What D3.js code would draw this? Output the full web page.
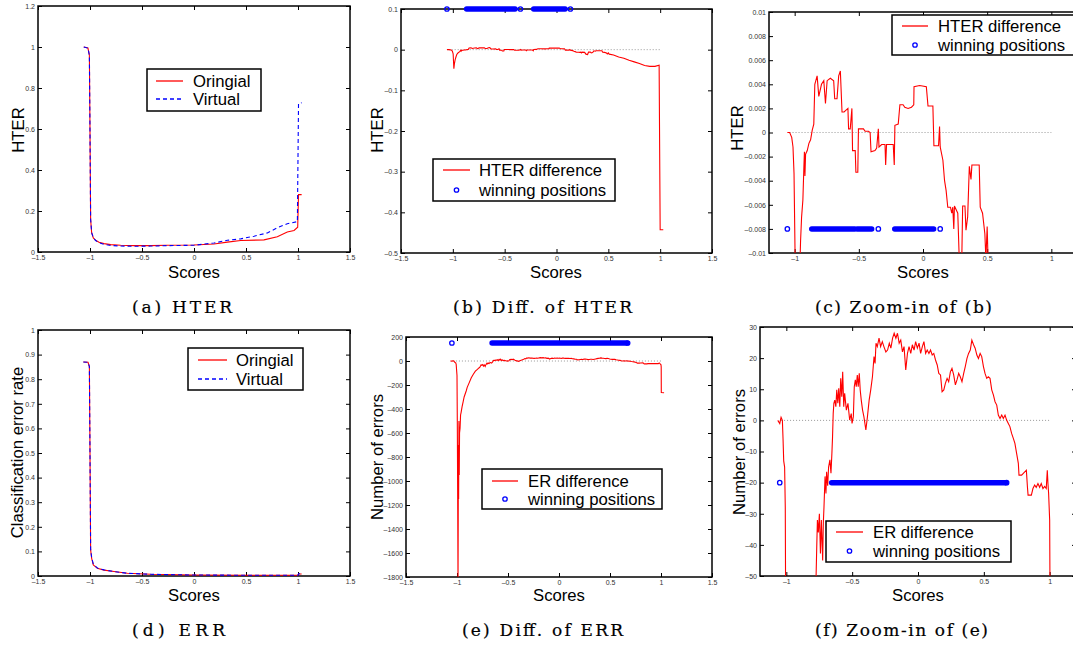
<!DOCTYPE html>
<html>
<head>
<meta charset="utf-8">
<script src="https://cdn.jsdelivr.net/npm/d3@7"></script>
<style>
body { margin: 0; background: #fff; }
svg { display: block; }
.tick text { font-family: "Liberation Sans", Arial, sans-serif; font-size: 7px; fill: #333; }
.tick line { stroke: #000; stroke-width: 1; }
.lab { font-family: "Liberation Sans", Arial, sans-serif; font-size: 16.7px; fill: #000; }
.cap { font-family: "DejaVu Serif", "Liberation Serif", serif; font-size: 17px; fill: #000; stroke: #000; stroke-width: 0.2; }
</style>
</head>
<body>
<svg width="1073" height="648"></svg>
<script>
// ---- data ----
var ticksScores = [-1.5, -1, -0.5, 0, 0.5, 1, 1.5];
var ticksScoresZoom = [-1, -0.5, 0, 0.5, 1];
var ticksHter = [0, 0.2, 0.4, 0.6, 0.8, 1, 1.2];
var ticksHterDiff = [-0.5, -0.4, -0.3, -0.2, -0.1, 0, 0.1];
var ticksHterZoom = [-0.01, -0.008, -0.006, -0.004, -0.002, 0, 0.002, 0.004, 0.006, 0.008, 0.01];
var ticksErr = [0, 0.1, 0.2, 0.3, 0.4, 0.5, 0.6, 0.7, 0.8, 0.9, 1];
var ticksErDiff = [-1800, -1600, -1400, -1200, -1000, -800, -600, -400, -200, 0, 200];
var ticksErZoom = [-50, -40, -30, -20, -10, 0, 10, 20, 30];

var hterOriginal = [[-1.06,1.0],[-1.02,0.995],[-1.006,0.96],[-1.0,0.585],[-0.994,0.16],[-0.984,0.093],
  [-0.968,0.069],[-0.946,0.057],[-0.913,0.048],[-0.865,0.041],[-0.801,0.036],[-0.705,0.033],[-0.577,0.031],
  [-0.417,0.031],[-0.256,0.033],[0,0.034],[0.192,0.039],[0.321,0.048],[0.449,0.056],[0.673,0.059],
  [0.801,0.074],[0.897,0.098],[0.962,0.105],[0.997,0.121],[1.005,0.28],[1.035,0.28]];
var hterVirtual = [[-1.06,1.0],[-1.02,0.995],[-1.006,0.96],[-1.0,0.585],[-0.994,0.16],[-0.984,0.095],
  [-0.968,0.07],[-0.946,0.056],[-0.913,0.045],[-0.865,0.037],[-0.801,0.032],[-0.705,0.029],[-0.577,0.028],
  [-0.417,0.029],[-0.256,0.031],[0,0.033],[0.192,0.044],[0.321,0.057],[0.449,0.064],[0.577,0.077],
  [0.705,0.093],[0.801,0.118],[0.897,0.138],[0.994,0.148],[1.005,0.725],[1.035,0.728]];

var hterDiff = [[-1.057,0],[-1.039,0],[-1.023,-0.0004],[-1.013,-0.0012],[-1.005,-0.0034],[-0.997,-0.01],
  [-0.99,-0.047],[-0.985,-0.035],[-0.978,-0.025],[-0.97,-0.018],[-0.962,-0.012],[-0.954,-0.009],
  [-0.946,-0.007],[-0.936,-0.0056],[-0.928,-0.0028],[-0.924,-0.0016],[-0.92,-0.0036],[-0.915,-0.0018],
  [-0.902,-0.0015],[-0.889,-0.0009],[-0.876,-0.0006],[-0.863,0.0002],[-0.851,0.0007],[-0.843,0.004],
  [-0.825,0.0047],[-0.812,0.003],[-0.791,0.004],[-0.773,0.0043],[-0.76,0.0024],[-0.747,0.0043],
  [-0.722,0.0045],[-0.696,0.0043],[-0.688,0.0028],[-0.67,0.0028],[-0.657,0.0047],[-0.644,0.0051],
  [-0.631,0.0017],[-0.615,0.0017],[-0.585,0.002],[-0.58,0.0003],[-0.567,0.0003],[-0.554,0.002],
  [-0.549,-0.0015],[-0.528,-0.0015],[-0.523,-0.0033],[-0.508,-0.0033],[-0.503,0.0003],[-0.464,0.0003],
  [-0.451,0.0001],[-0.425,0.0001],[-0.412,0],[-0.405,-0.0016],[-0.374,-0.0015],[-0.361,-0.0013],
  [-0.348,0.0003],[-0.343,-0.0012],[-0.322,-0.001],[-0.296,-0.001],[-0.291,-0.0027],[-0.284,-0.001],
  [-0.232,-0.001],[-0.224,-0.0027],[-0.219,0.0006],[-0.193,0.0007],[-0.18,0.0023],[-0.155,0.0023],
  [-0.142,0.0021],[-0.116,0.002],[-0.09,0.0021],[-0.072,0.0023],[-0.07,0.0038],[-0.026,0.0039],
  [0.026,0.0038],[0.039,0.0022],[0.077,0.0022],[0.085,-0.0011],[0.121,-0.0011],[0.129,0.0005],
  [0.134,-0.0012],[0.155,-0.0023],[0.168,-0.004],[0.18,-0.0048],[0.193,-0.0062],[0.214,-0.0062],
  [0.224,-0.0067],[0.232,-0.0062],[0.24,-0.008],[0.245,-0.0061],[0.271,-0.0067],[0.284,-0.011],
  [0.3,-0.012],[0.309,-0.0061],[0.327,-0.0061],[0.335,-0.0081],[0.348,-0.007],[0.361,-0.0028],
  [0.374,-0.0039],[0.381,-0.0027],[0.438,-0.0027],[0.446,-0.0062],[0.464,-0.0067],[0.482,-0.0084],
  [0.49,-0.0105],[0.5,-0.0078],[0.508,-0.011],[0.55,-0.013],[0.6,-0.018],[0.65,-0.021],[0.7,-0.026],
  [0.75,-0.03],[0.8,-0.034],[0.85,-0.039],[0.9,-0.041],[0.95,-0.041],[0.99,-0.038],[1.0,-0.443],[1.03,-0.443]];
var hterWinBands = [[-0.867,-0.532], [-0.512,-0.4], [-0.22,0.083]];
var hterWinPoints = [-1.057, -0.348, 0.134];

var errOriginal = [[-1.064,0.87],[-1.019,0.869],[-1.006,0.851],[-1.0,0.499],[-0.994,0.106],[-0.984,0.072],
  [-0.968,0.045],[-0.929,0.031],[-0.865,0.024],[-0.769,0.018],[-0.641,0.011],[-0.417,0.007],[0,0.004],
  [0.545,0.003],[1.0,0.003],[1.005,0.008],[1.035,0.008]];
var errVirtual = [[-1.064,0.87],[-1.019,0.869],[-1.006,0.851],[-1.0,0.499],[-0.994,0.11],[-0.984,0.075],
  [-0.968,0.048],[-0.929,0.032],[-0.865,0.025],[-0.769,0.018],[-0.641,0.011],[-0.417,0.007],[0,0.004],
  [0.545,0.003],[1.0,0.003],[1.005,0.009],[1.035,0.009]];

var erDiff = [[-1.065,0],[-1.05,-1],[-1.04,1],[-1.03,0],[-1.025,-6],[-1.02,-13],[-1.013,-15],[-1.008,-28],
  [-1.0,-120],[-0.997,-500],[-0.993,-1200],[-0.99,-1850],[-0.988,-1300],[-0.986,-700],[-0.984,-1150],
  [-0.981,-500],[-0.978,-950],[-0.975,-600],[-0.97,-560],[-0.965,-450],[-0.96,-430],[-0.95,-380],
  [-0.94,-340],[-0.93,-300],[-0.91,-250],[-0.9,-220],[-0.88,-180],[-0.86,-140],[-0.84,-110],[-0.82,-85],
  [-0.8,-70],[-0.785,-58],[-0.774,-50],[-0.769,-40.6],[-0.764,-32],[-0.757,-36],[-0.749,-30],[-0.741,-42.8],
  [-0.734,-32],[-0.724,-45],[-0.719,-33],[-0.714,-27.8],[-0.706,-18],[-0.699,-23.5],[-0.694,-16.5],
  [-0.686,-21],[-0.679,-15],[-0.669,-12.7],[-0.661,-17],[-0.654,-10.6],[-0.649,-5.3],[-0.644,2.2],
  [-0.639,5.5],[-0.632,6.5],[-0.624,4.4],[-0.617,9.8],[-0.609,5.5],[-0.602,10.3],[-0.594,4.4],[-0.587,13.5],
  [-0.579,7.6],[-0.572,15.6],[-0.564,4.4],[-0.557,8.7],[-0.544,3.3],[-0.532,5.5],[-0.519,0.1],[-0.507,2.2],
  [-0.501,-1],[-0.491,1.2],[-0.484,10.8],[-0.476,13],[-0.469,10.8],[-0.461,14.6],[-0.454,10.8],[-0.446,15.1],
  [-0.439,9.8],[-0.431,6.5],[-0.421,3.3],[-0.411,1.2],[-0.396,-3.1],[-0.384,1.2],[-0.371,6.5],[-0.359,9.8],
  [-0.346,14],[-0.334,20.5],[-0.326,18.3],[-0.319,24.8],[-0.309,23.7],[-0.296,26.4],[-0.284,23.7],
  [-0.271,25.3],[-0.259,23.7],[-0.244,22],[-0.231,22.6],[-0.218,24.8],[-0.206,23.2],[-0.193,26.4],
  [-0.181,28],[-0.168,26.4],[-0.156,28],[-0.143,24.8],[-0.131,25.8],[-0.118,22],[-0.106,23.7],[-0.093,16.2],
  [-0.08,21.5],[-0.068,23.7],[-0.055,21.5],[-0.043,24.3],[-0.03,22.6],[-0.018,25.3],[-0.005,23.2],
  [0.008,24.8],[0.02,21.5],[0.033,23.7],[0.045,25.3],[0.058,21.5],[0.07,22.6],[0.083,21.5],[0.095,22.6],
  [0.108,21],[0.12,21.5],[0.133,19.4],[0.146,17.8],[0.158,15.1],[0.171,14.6],[0.183,9.2],[0.196,9.8],
  [0.208,11.9],[0.221,13.5],[0.233,12.4],[0.246,15.6],[0.258,16.7],[0.271,14.6],[0.284,11.4],[0.296,13],
  [0.309,15.1],[0.321,14],[0.334,12.4],[0.347,15.1],[0.359,17.3],[0.372,19.9],[0.384,21.5],[0.397,22.6],
  [0.409,25.8],[0.422,24.3],[0.434,23.2],[0.447,21],[0.459,19.9],[0.472,21.5],[0.484,20.5],[0.497,17.3],
  [0.509,15.1],[0.522,13.5],[0.534,14],[0.547,13.5],[0.56,9.8],[0.573,8.1],[0.585,6],[0.598,4.9],
  [0.61,1.7],[0.623,0.6],[0.636,1.7],[0.648,0.6],[0.661,1.7],[0.673,0.1],[0.686,-1],[0.698,-2],
  [0.711,-4.2],[0.724,-5.8],[0.736,-7.4],[0.749,-10.6],[0.762,-13.8],[0.767,-17.6],[0.787,-17.6],
  [0.8,-17],[0.823,-16],[0.831,-21.3],[0.836,-24],[0.861,-24],[0.873,-21.9],[0.886,-20.8],[0.898,-21.5],
  [0.911,-20.3],[0.924,-21.5],[0.936,-20.3],[0.949,-21.9],[0.962,-21.2],[0.974,-21.9],[0.982,-16],
  [0.987,-20.3],[0.992,-23.5],[1.0,-32],[1.002,-50],[1.003,-262],[1.03,-265]];
var erWinBands = [[-0.656,0.665]];
var erWinPoints = [-1.05, 0.673];

var zeroLine = [-1.04, 1.0];
var legendCurves = ["Oringial", "Virtual"];
var legendHterDiff = ["HTER difference", "winning positions"];
var legendErDiff = ["ER difference", "winning positions"];
var captions = ["(a) HTER", "(b) Diff. of HTER", "(c) Zoom-in of (b)", "(d) ERR", "(e) Diff. of ERR", "(f) Zoom-in of (e)"];
var yLabels = ["HTER", "HTER", "HTER", "Classification error rate", "Number of errors", "Number of errors"];

// ---- drawing ----
var svg = d3.select("svg");

function fmt(d) {
    var s = String(+(+d).toFixed(6));
    return s.replace("-", "\u2013");
}

function drawPanel(p) {
    var g = svg.append("g");
    var x = d3.scaleLinear().domain(p.xDomain).range([p.left, p.right]);
    var y = d3.scaleLinear().domain(p.yDomain).range([p.bottom, p.top]);

    svg.append("clipPath").attr("id", "clip" + p.id)
        .append("rect")
        .attr("x", p.left).attr("y", p.top)
        .attr("width", p.right - p.left).attr("height", p.bottom - p.top);

    // axes, matlab style: ticks inside on all four sides
    var ax = [
        g.append("g").attr("transform", "translate(0," + p.bottom + ")")
            .call(d3.axisBottom(x).tickValues(p.xTicks).tickSize(-4).tickPadding(3).tickFormat(fmt)),
        g.append("g").attr("transform", "translate(0," + p.top + ")")
            .call(d3.axisTop(x).tickValues(p.xTicks).tickSize(-4).tickFormat("")),
        g.append("g").attr("transform", "translate(" + p.left + ",0)")
            .call(d3.axisLeft(y).tickValues(p.yTicks).tickSize(-4).tickPadding(3).tickFormat(fmt)),
        g.append("g").attr("transform", "translate(" + p.right + ",0)")
            .call(d3.axisRight(y).tickValues(p.yTicks).tickSize(-4).tickFormat(""))
    ];
    ax.forEach(function(a) { a.select(".domain").remove(); });

    g.append("rect")
        .attr("x", p.left).attr("y", p.top)
        .attr("width", p.right - p.left).attr("height", p.bottom - p.top)
        .attr("fill", "none").attr("stroke", "#000").attr("stroke-width", 1.5);

    var plot = g.append("g").attr("clip-path", "url(#clip" + p.id + ")");

    if (p.zero) {
        plot.append("line")
            .attr("x1", x(zeroLine[0])).attr("x2", x(zeroLine[1]))
            .attr("y1", y(0)).attr("y2", y(0))
            .attr("stroke", "#999").attr("stroke-width", 1).attr("stroke-dasharray", "1,2");
    }

    var line = d3.line().x(function(d) { return x(d[0]); }).y(function(d) { return y(d[1]); });
    p.series.forEach(function(s) {
        plot.append("path").datum(s.data)
            .attr("d", line)
            .attr("fill", "none")
            .attr("stroke", s.color)
            .attr("stroke-width", 1.1)
            .attr("stroke-dasharray", s.dash || null);
    });

    if (p.wins) {
        var wy = y(p.wins.y);
        p.wins.bands.forEach(function(b) {
            g.append("line")
                .attr("x1", x(b[0])).attr("x2", x(b[1]))
                .attr("y1", wy).attr("y2", wy)
                .attr("stroke", "#0000ff").attr("stroke-width", 5.5).attr("stroke-linecap", "round");
        });
        g.selectAll(null).data(p.wins.points).enter().append("circle")
            .attr("cx", function(d) { return x(d); }).attr("cy", wy).attr("r", 2.2)
            .attr("fill", "none").attr("stroke", "#0000ff").attr("stroke-width", 1.3);
    }

    // legend
    var L = p.legend;
    var lg = g.append("g");
    lg.append("rect")
        .attr("x", L.box[0]).attr("y", L.box[1])
        .attr("width", L.box[2] - L.box[0]).attr("height", L.box[3] - L.box[1])
        .attr("fill", "#fff").attr("stroke", "#000").attr("stroke-width", 1.5);
    L.items.forEach(function(it, i) {
        var ly = L.rows[i];
        if (it.kind === "line") {
            lg.append("line")
                .attr("x1", L.line[0]).attr("x2", L.line[1]).attr("y1", ly).attr("y2", ly)
                .attr("stroke", it.color).attr("stroke-width", 1.3)
                .attr("stroke-dasharray", it.dash || null);
        } else {
            lg.append("circle")
                .attr("cx", (L.line[0] + L.line[1]) / 2).attr("cy", ly).attr("r", 2.2)
                .attr("fill", "none").attr("stroke", "#0000ff").attr("stroke-width", 1.3);
        }
        lg.append("text").attr("class", "lab")
            .attr("x", L.textX).attr("y", ly + 6)
            .text(it.label);
    });

    // axis labels
    g.append("text").attr("class", "lab")
        .attr("x", p.xLab[0]).attr("y", p.xLab[1])
        .attr("text-anchor", "middle").text("Scores");
    g.append("text").attr("class", "lab")
        .attr("transform", "translate(" + p.yLab[0] + "," + p.yLab[1] + ") rotate(-90)")
        .attr("text-anchor", "middle").text(p.yLabel);

    // caption
    g.append("text").attr("class", "cap")
        .attr("x", p.cap[0]).attr("y", p.cap[1])
        .attr("textLength", p.cap[2]).attr("lengthAdjust", "spacing")
        .text(p.caption);
}

var red = "#ff0000", blue = "#0000ff";

drawPanel({
    id: "a", left: 38, right: 350, top: 6, bottom: 252,
    xDomain: [-1.5, 1.5], yDomain: [0, 1.2], xTicks: ticksScores, yTicks: ticksHter,
    series: [{ data: hterOriginal, color: red }, { data: hterVirtual, color: blue, dash: "4,3" }],
    legend: { box: [147, 69, 261, 111], line: [156, 183], rows: [81, 99], textX: 193,
        items: [{ kind: "line", color: red, label: legendCurves[0] },
                { kind: "line", color: blue, dash: "4,3", label: legendCurves[1] }] },
    xLab: [194, 277.5], yLab: [23.5, 130], yLabel: yLabels[0],
    cap: [132, 313, 100], caption: captions[0]
});

drawPanel({
    id: "b", left: 401, right: 712, top: 9, bottom: 253,
    xDomain: [-1.5, 1.5], yDomain: [-0.5, 0.1], xTicks: ticksScores, yTicks: ticksHterDiff,
    zero: true,
    series: [{ data: hterDiff, color: red }],
    wins: { y: 0.1, bands: hterWinBands, points: hterWinPoints },
    legend: { box: [433, 159, 615, 201], line: [443, 470], rows: [170, 190], textX: 479,
        items: [{ kind: "line", color: red, label: legendHterDiff[0] },
                { kind: "marker", label: legendHterDiff[1] }] },
    xLab: [556, 277.5], yLab: [383.3, 130], yLabel: yLabels[1],
    cap: [453, 313, 179], caption: captions[1]
});

drawPanel({
    id: "c", left: 769, right: 1077, top: 12, bottom: 253,
    xDomain: [-1.2, 1.2], yDomain: [-0.01, 0.01], xTicks: ticksScoresZoom, yTicks: ticksHterZoom,
    zero: true,
    series: [{ data: hterDiff, color: red }],
    wins: { y: -0.008, bands: hterWinBands, points: hterWinPoints },
    legend: { box: [892, 15, 1078, 55], line: [902, 928], rows: [26, 45], textX: 938,
        items: [{ kind: "line", color: red, label: legendHterDiff[0] },
                { kind: "marker", label: legendHterDiff[1] }] },
    xLab: [923, 277.5], yLab: [743.3, 128], yLabel: yLabels[2],
    cap: [815, 313, 177], caption: captions[2]
});

drawPanel({
    id: "d", left: 38, right: 350, top: 330, bottom: 576,
    xDomain: [-1.5, 1.5], yDomain: [0, 1], xTicks: ticksScores, yTicks: ticksErr,
    series: [{ data: errOriginal, color: red }, { data: errVirtual, color: blue, dash: "4,3" }],
    legend: { box: [188, 348, 303, 390], line: [198, 227], rows: [360, 379], textX: 236,
        items: [{ kind: "line", color: red, label: legendCurves[0] },
                { kind: "line", color: blue, dash: "4,3", label: legendCurves[1] }] },
    xLab: [194, 600.5], yLab: [23.3, 452.5], yLabel: yLabels[3],
    cap: [132, 636, 93], caption: captions[3]
});

drawPanel({
    id: "e", left: 406, right: 712, top: 337, bottom: 577,
    xDomain: [-1.5, 1.5], yDomain: [-1800, 200], xTicks: ticksScores, yTicks: ticksErDiff,
    zero: true,
    series: [{ data: erDiff, color: red }],
    wins: { y: 150, bands: erWinBands, points: erWinPoints },
    legend: { box: [482, 469, 662, 509], line: [492, 518], rows: [481, 499], textX: 528,
        items: [{ kind: "line", color: red, label: legendErDiff[0] },
                { kind: "marker", label: legendErDiff[1] }] },
    xLab: [559, 601], yLab: [383.3, 457], yLabel: yLabels[4],
    cap: [462, 636, 161], caption: captions[4]
});

drawPanel({
    id: "f", left: 760, right: 1076, top: 327, bottom: 576,
    xDomain: [-1.2, 1.2], yDomain: [-50, 30], xTicks: ticksScoresZoom, yTicks: ticksErZoom,
    zero: true,
    series: [{ data: erDiff, color: red }],
    wins: { y: -20, bands: erWinBands, points: erWinPoints },
    legend: { box: [826, 521, 1011, 562], line: [836, 863], rows: [532, 551], textX: 873,
        items: [{ kind: "line", color: red, label: legendErDiff[0] },
                { kind: "marker", label: legendErDiff[1] }] },
    xLab: [918, 601], yLab: [745, 452], yLabel: yLabels[5],
    cap: [815, 636, 173], caption: captions[5]
});
</script>
</body>
</html>
